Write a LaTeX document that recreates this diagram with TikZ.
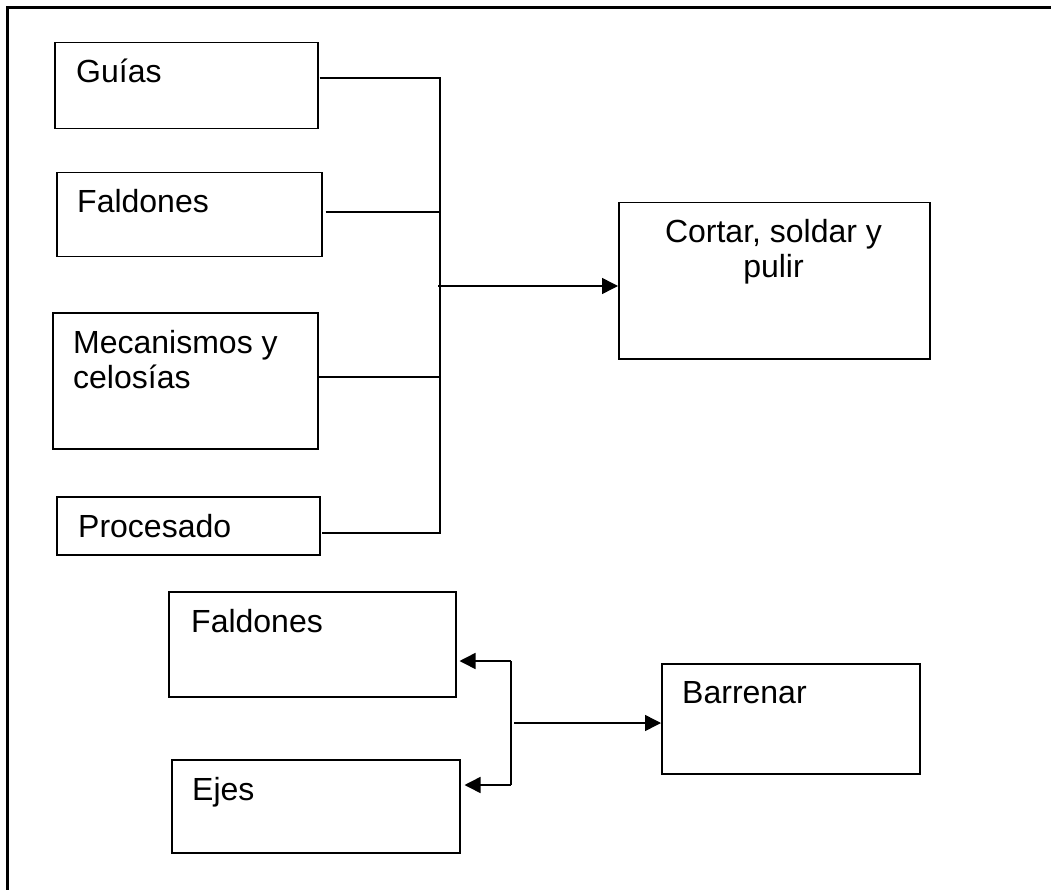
\documentclass[tikz,border=0pt]{standalone}
\usepackage{fontspec}
\setmainfont{Liberation Sans}
\usetikzlibrary{arrows.meta}
\begin{document}
\begin{tikzpicture}[x=1pt,y=-1pt,
  box/.style={draw,line width=1.5pt,rectangle,inner sep=0pt,anchor=north west},
  lbl/.style={anchor=base west,inner sep=0pt,font=\fontsize{32}{35}\selectfont},
  wire/.style={line width=1.5pt},
  arr/.style={line width=1.5pt,-{Triangle[length=16pt,width=16pt]}},
  frameline/.style={line width=2.4pt}]
\useasboundingbox (0,0) rectangle (1051,890);
% page frame (top and left edges)
\coordinate (fTL) at (7.5,7.5);
\coordinate (fTR) at (1051,7.5);
\coordinate (fBL) at (7.5,890);
\draw[frameline] (fTR) -- (fTL) -- (fBL);
% boxes
\node[box,minimum width=263pt,minimum height=86pt] (guias) at (54,42) {};
\node[box,minimum width=265pt,minimum height=84pt] (faldones) at (56,172) {};
\node[box,minimum width=265pt,minimum height=136pt] (mecanismos) at (52,312) {};
\node[box,minimum width=263pt,minimum height=58pt] (procesado) at (56,496) {};
\node[box,minimum width=311pt,minimum height=156pt] (cortar) at (618,202) {};
\node[box,minimum width=287pt,minimum height=105pt] (faldonesB) at (168,591) {};
\node[box,minimum width=288pt,minimum height=93pt] (ejes) at (171,759) {};
\node[box,minimum width=258pt,minimum height=110pt] (barrenar) at (661,663) {};
% labels
\node[lbl] (tGuias) at (76,83) {Guías};
\node[lbl] (tFaldones) at (77,213) {Faldones};
\node[lbl] (tMec1) at (73,353) {Mecanismos y};
\node[lbl] (tMec2) at (73,388) {celosías};
\node[lbl] (tProc) at (78,537) {Procesado};
\node[lbl,anchor=base] (tCortar1) at (773.5,243) {Cortar, soldar y};
\node[lbl,anchor=base] (tCortar2) at (773.5,278) {pulir};
\node[lbl] (tFaldonesB) at (191,632) {Faldones};
\node[lbl] (tEjes) at (192,800) {Ejes};
\node[lbl] (tBarrenar) at (682,703) {Barrenar};
% upper collector
\coordinate (busTop) at (440,78);
\coordinate (busF) at (440,212);
\coordinate (busOut) at (438,286);
\coordinate (busM) at (440,377);
\coordinate (busBot) at (440,533);
\draw[wire] ([xshift=1pt]guias.east |- busTop) -- (busTop) -- (busBot) -- ([xshift=1pt]procesado.east |- busBot);
\draw[wire] ([xshift=3pt]faldones.east |- busF) -- (busF);
\draw[wire] (mecanismos.east |- busM) -- (busM);
\draw[arr] (busOut) -- (cortar.west |- busOut);
% lower distributor
\coordinate (dTop) at (511,661);
\coordinate (dBot) at (511,785);
\coordinate (dOut) at (514,723);
\draw[wire] (dTop) -- (dBot);
\draw[arr] (dTop) -- ([xshift=3pt]faldonesB.east |- dTop);
\draw[arr] (dBot) -- ([xshift=4pt]ejes.east |- dBot);
\draw[arr] (dOut) -- (barrenar.west |- dOut);
\end{tikzpicture}
\end{document}
